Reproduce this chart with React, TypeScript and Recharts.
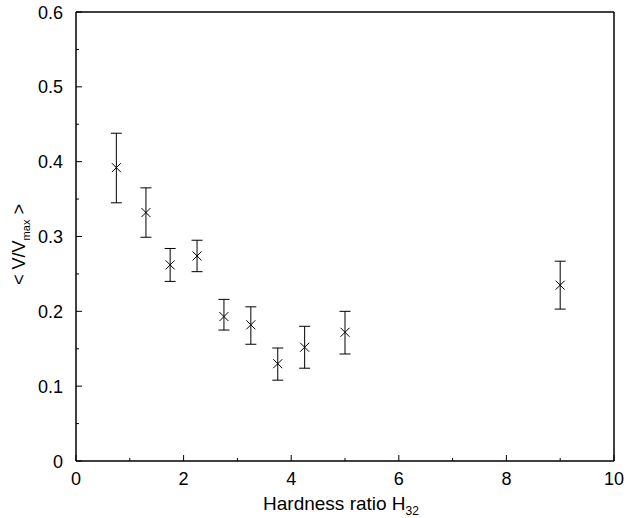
import { ScatterChart, Scatter, XAxis, YAxis, ErrorBar } from "recharts";

// hardness ratio bins
const hardness = [0.75, 1.3, 1.75, 2.25, 2.75, 3.25, 3.75, 4.25, 5.0, 9.0];
// mean V/Vmax per bin
const vMean = [0.392, 0.332, 0.262, 0.274, 0.193, 0.182, 0.13, 0.152, 0.172, 0.235];
// error bar extents (below, above)
const errBelow = [0.047, 0.033, 0.022, 0.021, 0.018, 0.026, 0.022, 0.028, 0.029, 0.032];
const errAbove = [0.046, 0.033, 0.022, 0.021, 0.023, 0.024, 0.021, 0.028, 0.028, 0.032];

const xTicks = [0, 1, 2, 3, 4, 5, 6, 7, 8, 9, 10];
const yTicks = [0, 0.05, 0.1, 0.15, 0.2, 0.25, 0.3, 0.35, 0.4, 0.45, 0.5, 0.55, 0.6];

const data = hardness.map((h, i) => ({ x: h, y: vMean[i], err: [errBelow[i], errAbove[i]] }));

const FONT = "'Liberation Sans', Arial, Helvetica, sans-serif";
const MAJOR = 6;
const MINOR = 3;

const isMajorX = (v: number) => Math.round(v) % 2 === 0;
const isMajorY = (v: number) => Math.abs(Math.round(v * 10) - v * 10) < 1e-6;

function BottomTick({ x, y, payload }: any) {
  const major = isMajorX(payload.value);
  return (
    <g>
      <line x1={x} y1={y} x2={x} y2={y - (major ? MAJOR : MINOR)} stroke="#000" strokeWidth={1} />
      {major && (
        <text x={x} y={y + 24} textAnchor="middle" fontSize={18} fontFamily={FONT} fill="#000">
          {payload.value}
        </text>
      )}
    </g>
  );
}

function TopTick({ x, y, payload }: any) {
  const major = isMajorX(payload.value);
  return <line x1={x} y1={y} x2={x} y2={y + (major ? MAJOR : MINOR)} stroke="#000" strokeWidth={1} />;
}

function LeftTick({ x, y, payload }: any) {
  const major = isMajorY(payload.value);
  return (
    <g>
      <line x1={x} y1={y} x2={x + (major ? MAJOR : MINOR)} y2={y} stroke="#000" strokeWidth={1} />
      {major && (
        <text x={x - 13} y={y + 6.5} textAnchor="end" fontSize={18} fontFamily={FONT} fill="#000">
          {Number(payload.value.toFixed(1)).toString()}
        </text>
      )}
    </g>
  );
}

function RightTick({ x, y, payload }: any) {
  const major = isMajorY(payload.value);
  return <line x1={x} y1={y} x2={x - (major ? MAJOR : MINOR)} y2={y} stroke="#000" strokeWidth={1} />;
}

function Cross({ cx, cy }: any) {
  const s = 4.5;
  return (
    <g stroke="#000" strokeWidth={1}>
      <line x1={cx - s} y1={cy - s} x2={cx + s} y2={cy + s} />
      <line x1={cx - s} y1={cy + s} x2={cx + s} y2={cy - s} />
    </g>
  );
}

export default function App() {
  return (
    <div style={{ position: "absolute", left: 0, top: 0, width: 627, height: 518, background: "#fff" }}>
      <ScatterChart width={627} height={518} margin={{ top: 11, right: 12, left: 0, bottom: 0 }}>
        <XAxis
          xAxisId="bottom"
          type="number"
          dataKey="x"
          domain={[0, 10]}
          ticks={xTicks}
          interval={0}
          height={57}
          tickSize={0}
          tickMargin={0}
          tickLine={false}
          axisLine={{ stroke: "#000", strokeWidth: 1.5 }}
          tick={<BottomTick />}
          label={{
            content: ({ viewBox }: any) => (
              <text
                x={viewBox.x + viewBox.width / 2 - 4}
                y={viewBox.y + 49}
                textAnchor="middle"
                fontSize={19}
                fontFamily={FONT}
                fill="#000"
              >
                Hardness ratio H
                <tspan fontSize={12} dy={5}>32</tspan>
              </text>
            ),
          }}
        />
        <XAxis
          xAxisId="top"
          orientation="top"
          type="number"
          dataKey="x"
          domain={[0, 10]}
          ticks={xTicks}
          interval={0}
          height={1}
          tickSize={0}
          tickMargin={0}
          tickLine={false}
          axisLine={{ stroke: "#000", strokeWidth: 1.5 }}
          tick={<TopTick />}
        />
        <YAxis
          yAxisId="left"
          type="number"
          dataKey="y"
          domain={[0, 0.6]}
          ticks={yTicks}
          interval={0}
          width={76}
          tickSize={0}
          tickMargin={0}
          tickLine={false}
          axisLine={{ stroke: "#000", strokeWidth: 1.5 }}
          tick={<LeftTick />}
          label={{
            content: ({ viewBox }: any) => {
              const cx = 25;
              const cy = viewBox.y + viewBox.height / 2 + 8;
              return (
                <text
                  x={cx}
                  y={cy}
                  transform={`rotate(-90 ${cx} ${cy})`}
                  textAnchor="middle"
                  fontSize={18}
                  fontFamily={FONT}
                  fill="#000"
                >
                  {"< V/V"}
                  <tspan fontSize={11} dy={5}>max</tspan>
                  <tspan dy={-5}>{" >"}</tspan>
                </text>
              );
            },
          }}
        />
        <YAxis
          yAxisId="right"
          orientation="right"
          type="number"
          dataKey="y"
          domain={[0, 0.6]}
          ticks={yTicks}
          interval={0}
          width={1}
          tickSize={0}
          tickMargin={0}
          tickLine={false}
          axisLine={{ stroke: "#000", strokeWidth: 1.5 }}
          tick={<RightTick />}
        />
        <Scatter
          data={data}
          xAxisId="bottom"
          yAxisId="left"
          shape={<Cross />}
          isAnimationActive={false}
        >
          <ErrorBar dataKey="err" direction="y" width={5.5} stroke="#000" strokeWidth={1} isAnimationActive={false} />
        </Scatter>
      </ScatterChart>
    </div>
  );
}
